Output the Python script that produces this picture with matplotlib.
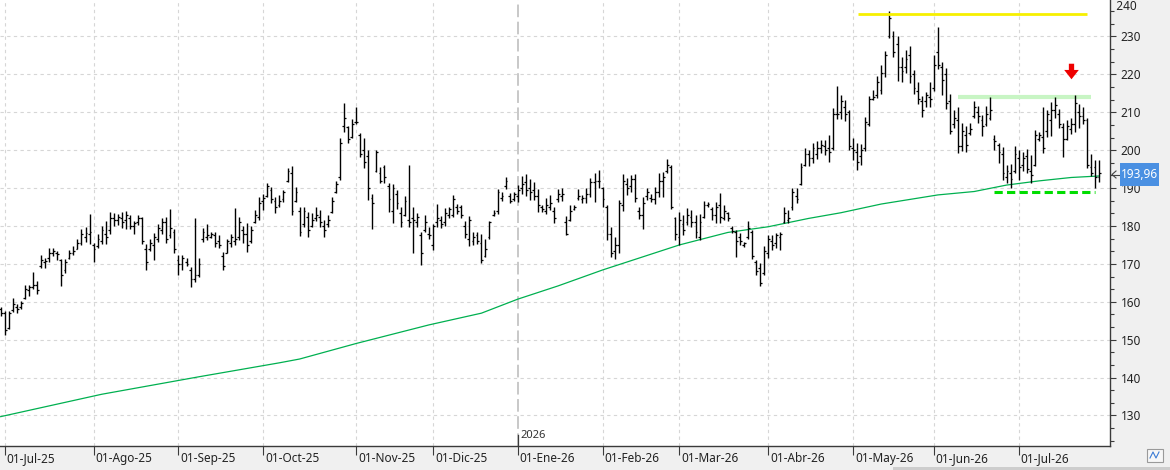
import matplotlib
matplotlib.use("Agg")
import matplotlib.pyplot as plt
import numpy as np
from matplotlib.path import Path
from matplotlib.patches import Rectangle
from matplotlib.ticker import MultipleLocator, FixedLocator
import matplotlib.transforms as mtransforms

plt.rcParams['font.family'] = ['Noto Sans', 'DejaVu Sans']

# ---------------- data ----------------
highs = [158.6,157.6,157.6,160.9,159.3,160.2,164.3,164.3,167.9,165.5,172.3,171.6,174.1,174.1,173.4,171.2,171.2,173.6,174.7,176.7,
         179.1,179.7,183.1,175.6,178.0,180.0,181.3,183.7,183.3,183.1,183.7,184.0,182.9,181.3,182.9,182.4,175.3,176.7,178.2,180.4,
         182.2,182.4,184.4,179.1,172.3,172.3,171.6,169.3,182.0,171.5,179.4,180.5,178.5,178.3,177.6,173.2,176.7,178.0,184.7,182.5,
         180.0,180.7,180.0,184.2,187.6,188.4,191.4,190.4,187.7,188.1,189.5,195.2,195.9,190.2,185.0,184.9,183.8,183.4,185.1,184.1,
         181.6,182.9,187.6,192.0,203.3,212.4,206.4,208.2,211.5,204.5,203.1,200.1,188.5,200.1,195.5,196.1,191.4,191.0,189.5,184.9,
         187.8,196.1,184.9,183.5,178.5,182.9,179.7,180.5,185.8,182.7,184.7,184.9,188.2,185.8,185.6,181.4,182.7,178.5,178.3,177.9,
         176.5,181.2,184.2,189.7,189.1,192.9,188.8,189.1,190.8,193.2,193.7,192.3,191.7,189.7,185.6,187.3,188.2,184.9,189.7,189.9,
         182.6,185.5,185.5,189.7,188.2,189.9,192.6,193.9,194.8,190.4,185.5,179.8,177.0,186.9,193.7,192.6,193.5,193.6,185.1,187.6,
         189.9,188.5,190.4,194.1,194.3,197.6,196.1,182.5,183.8,182.9,184.7,184.2,182.9,183.2,186.7,186.4,185.1,186.4,188.8,185.5,
         183.8,180.0,179.0,178.1,175.9,181.4,178.9,171.0,170.2,174.6,177.6,177.6,178.1,178.5,185.1,184.2,189.9,189.9,196.5,200.5,
         200.1,201.8,202.3,202.7,202.7,204.0,211.1,217.0,214.6,213.2,210.6,203.1,202.0,201.6,208.8,214.3,215.9,219.6,222.5,226.3,
         236.8,231.5,230.1,224.5,226.4,227.5,221.2,218.1,214.3,215.4,218.1,225.1,232.6,223.4,221.6,214.8,210.6,211.3,207.2,206.4,
         207.1,213.0,211.6,209.3,211.6,214.1,204.0,201.8,200.8,196.1,196.4,201.0,200.1,199.6,200.2,198.8,205.4,204.7,211.3,210.6,
         212.8,214.1,211.0,207.2,208.0,208.6,214.6,212.3,211.5,208.6,199.0,197.3,197.4]
lows = [156.3,151.2,152.7,157.4,157.1,158.0,160.8,161.4,163.3,162.0,168.8,168.8,170.6,172.1,171.0,164.2,167.7,171.2,172.3,173.8,
        174.9,175.9,175.2,170.5,174.3,175.2,175.3,178.0,180.0,180.3,179.6,179.1,179.1,177.8,180.3,175.3,168.5,173.4,170.9,175.9,
        177.8,175.6,176.9,173.0,167.0,168.3,169.4,164.0,165.3,166.6,175.9,176.3,176.8,174.5,174.1,168.4,172.8,174.5,175.0,176.3,
        175.4,173.2,175.4,180.7,181.6,184.2,187.7,186.0,183.3,185.1,186.4,191.7,182.9,186.2,177.4,179.8,177.2,179.8,181.2,179.8,
        177.0,179.8,183.5,188.6,192.2,204.9,201.8,203.2,206.9,198.3,195.2,186.9,179.1,194.3,191.3,191.3,183.8,180.7,184.4,179.7,
        182.7,179.8,173.0,179.8,169.7,178.3,176.5,173.7,179.8,179.4,180.0,182.1,182.3,183.2,182.1,176.8,174.6,175.0,175.3,170.3,
        171.7,176.5,182.7,183.2,186.7,189.7,186.0,186.7,186.2,188.5,187.9,186.9,186.9,183.8,183.8,183.2,184.1,180.9,186.4,186.6,
        177.6,181.2,184.2,186.9,186.0,186.0,187.7,186.2,190.0,185.1,176.3,171.9,171.2,172.8,184.0,188.2,189.1,186.4,181.8,179.1,
        186.9,186.4,185.8,187.7,187.7,193.9,184.4,176.3,175.0,177.6,180.3,179.8,176.8,176.3,182.0,185.1,181.6,180.7,180.7,181.6,
        181.2,178.2,171.7,175.0,174.4,176.7,171.2,167.1,164.2,167.1,171.5,173.7,174.1,173.7,180.7,180.7,184.2,186.0,190.8,195.7,
        195.8,196.5,197.6,199.2,198.8,197.0,200.1,208.1,208.1,207.8,200.1,197.4,194.8,196.1,199.9,206.4,213.2,213.7,214.8,219.4,
        229.5,224.5,218.3,218.1,220.5,217.7,214.8,212.2,208.8,211.5,211.3,215.7,221.3,214.6,211.0,204.4,205.8,199.3,199.8,199.6,
        204.0,208.4,207.2,203.7,206.4,207.9,200.1,196.5,192.1,191.3,190.0,193.9,192.1,194.6,194.0,191.3,195.7,202.3,199.2,203.6,
        203.7,208.4,205.8,198.3,202.7,204.2,204.9,205.8,206.9,195.3,193.2,189.9,191.7]
opens = [158.0,157.0,153.0,157.8,158.5,158.5,161.0,163.0,164.0,164.5,169.5,170.5,171.5,173.0,173.0,171.0,168.5,171.5,173.0,174.0,
         175.5,177.0,178.0,175.0,174.8,176.0,178.0,179.0,182.0,181.5,182.0,181.5,182.0,180.0,181.0,182.0,174.0,174.0,175.0,176.5,
         179.0,181.0,177.5,178.5,171.0,170.0,170.5,168.5,166.0,167.0,176.5,177.0,177.0,177.5,176.0,172.0,173.0,175.5,176.0,177.0,
         179.0,178.0,176.0,181.0,182.5,186.5,188.0,189.5,186.5,185.5,187.0,192.0,194.0,186.5,184.0,180.5,182.5,180.0,182.0,182.5,
         180.0,180.5,183.8,189.0,193.0,206.5,206.0,203.5,207.5,204.0,200.0,198.5,187.5,194.5,194.0,195.5,190.5,184.0,188.5,183.5,
         183.0,181.5,182.0,181.0,177.5,179.0,178.0,175.0,181.0,181.5,181.0,183.0,183.0,185.0,185.0,180.0,176.5,176.0,177.5,175.5,
         172.0,177.0,183.0,184.0,187.5,190.5,188.0,187.0,188.0,190.0,191.5,190.0,189.5,188.0,185.0,184.0,185.0,184.0,187.0,188.0,
         181.0,181.5,184.5,187.5,187.0,187.5,188.5,191.5,192.0,190.0,185.0,178.0,173.5,175.0,185.5,191.0,190.5,192.5,184.0,183.0,
         188.0,187.5,187.0,189.0,192.0,194.5,195.5,182.0,177.0,180.5,181.0,182.5,181.0,177.0,182.5,185.5,184.5,183.0,185.5,182.0,
         183.5,179.5,178.5,177.0,175.0,177.0,178.5,170.5,169.0,167.5,173.0,176.0,175.5,177.0,181.0,181.5,185.0,188.0,191.0,196.0,
         199.0,198.0,199.0,200.5,201.0,200.5,200.5,209.5,210.0,211.5,210.0,200.5,199.5,198.5,200.5,207.0,213.5,214.5,216.0,220.5,
         230.0,230.0,228.0,222.0,222.0,225.0,220.0,215.5,213.0,213.0,214.0,216.5,226.0,222.0,220.0,213.0,207.0,208.0,201.0,204.0,
         204.5,209.0,210.0,208.0,207.0,208.5,203.0,201.5,199.0,193.0,194.0,194.5,198.0,196.0,198.5,194.5,196.0,203.0,203.5,205.0,
         208.0,210.5,209.5,206.0,203.0,205.5,207.0,210.0,209.0,208.0,195.5,195.5,193.0]
closes = [157.0,152.5,157.0,159.5,158.0,159.8,163.5,163.8,164.5,163.0,171.0,170.8,173.0,173.5,172.5,167.0,170.5,172.8,173.3,175.5,
          178.0,178.2,178.5,174.0,176.5,179.0,177.0,182.0,181.5,182.5,181.0,183.0,180.0,180.8,182.0,176.0,170.5,175.5,177.0,179.5,
          181.0,176.5,179.5,174.0,170.0,171.5,170.0,166.0,167.0,170.0,178.5,177.5,178.0,175.5,175.0,169.5,176.0,177.0,176.5,181.0,
          178.0,175.0,179.0,183.0,186.0,187.5,190.5,187.0,185.0,186.5,189.0,194.5,184.0,189.0,178.5,184.0,179.0,181.5,183.0,181.0,
          179.0,181.5,186.5,191.0,202.0,208.5,203.0,207.0,207.5,199.0,197.0,190.0,186.0,199.5,192.0,193.0,187.0,190.0,186.0,181.0,
          186.5,181.0,181.5,182.5,173.0,181.0,177.5,180.0,182.0,180.5,183.5,184.5,187.0,184.0,183.0,178.0,181.5,177.0,176.0,171.0,
          174.0,181.0,183.5,189.0,188.0,192.0,186.5,188.5,189.5,191.0,189.5,189.0,188.0,185.5,184.5,185.5,186.0,182.0,188.5,188.5,
          178.0,184.0,185.0,188.0,187.5,188.5,191.5,192.0,192.0,187.0,178.0,173.0,175.0,186.0,192.0,190.0,192.5,187.5,183.0,186.0,
          189.0,187.0,189.0,192.0,193.0,196.0,185.0,178.0,181.5,179.0,183.0,181.0,178.5,181.0,185.5,185.8,183.0,185.0,182.5,184.0,
          182.0,178.8,176.0,176.0,175.5,179.5,172.0,168.0,165.0,173.5,176.5,175.0,177.5,177.8,183.5,182.0,189.0,187.0,195.5,199.0,
          198.0,200.5,200.5,201.5,200.0,199.5,209.5,209.5,213.0,209.5,201.0,200.0,197.0,200.0,207.5,213.5,214.0,218.0,220.5,225.0,
          235.0,226.0,222.0,221.0,224.0,219.5,216.5,213.5,210.5,214.5,213.5,222.5,222.5,218.5,212.5,205.0,208.5,201.0,205.0,201.5,
          205.5,211.5,209.0,206.5,209.5,210.5,202.5,199.5,194.0,194.5,192.5,199.0,195.5,198.0,195.0,193.5,204.0,204.0,200.5,209.5,
          210.5,212.0,207.0,203.0,206.5,207.0,212.5,209.0,208.0,196.0,194.0,193.0,193.96]

# long moving average (read at sampled bars)
ma_idx = [0, 25, 49, 69, 74, 88, 106, 119, 128, 138, 149, 168, 180, 190, 200, 208, 218, 232, 241, 249, 257, 265, 272]
ma_val = [129.7, 135.6, 140.2, 143.9, 144.9, 149.0, 153.9, 157.0, 160.7, 164.2, 168.4, 175.0, 178.3, 179.8, 182.0, 183.5,
          185.8, 188.2, 189.1, 190.8, 191.9, 192.8, 193.2]

month_idx = [1, 23, 44, 65, 88, 107, 128, 149, 168, 190, 211, 231, 252]
month_labels = ['01-Jul-25', '01-Ago-25', '01-Sep-25', '01-Oct-25', '01-Nov-25', '01-Dic-25', '01-Ene-26',
                '01-Feb-26', '01-Mar-26', '01-Abr-26', '01-May-26', '01-Jun-26', '01-Jul-26']
year_idx = 128
year_label = '2026'

# drawn levels: (start bar, end bar, price)
top_level = (212.2, 268.9, 235.9)
resist_level = (236.9, 270.0, 214.0)
support_level = (245.9, 270.9, 189.0)
arrow_pos = (264.9, 221.0)
last_price = closes[-1]

# ---------------- figure ----------------
W, H = 1170, 470
fig = plt.figure(figsize=(W / 100, H / 100), dpi=100, facecolor='#f0f0f0')
ax = fig.add_axes([0, (H - 446) / H, 1110 / W, 446 / H])
ax.set_facecolor('white')

x = np.arange(len(highs))
ax.set_xlim(-0.17, 274.6)
ax.set_ylim(121.95, 239.63)

# grid
for v in range(130, 240, 10):
    ax.axhline(v, color='#d6d6d6', lw=0.8, ls=(0, (3, 3)), zorder=0)
for m in month_idx:
    if m == year_idx:
        continue
    ax.axvline(m, color='#d6d6d6', lw=0.8, ls=(0, (3, 3)), zorder=0)
ax.axvline(year_idx, color='#c4c4c4', lw=1.3, ls=(0, (7, 2.5)), zorder=0)

# moving average
ax.plot(ma_idx, ma_val, color='#00b050', lw=0.9, zorder=2)

# OHLC bars
tw = 0.45
ax.vlines(x, lows, highs, color='black', lw=1.0, zorder=3)
ax.hlines(opens, x - tw, x, color='black', lw=0.9, zorder=3)
ax.hlines(closes, x, x + tw, color='black', lw=0.9, zorder=3)

# levels
ax.plot([top_level[0], top_level[1]], [top_level[2]] * 2, color='#f7f000', lw=2.0, solid_capstyle='butt', zorder=4)
ax.plot([resist_level[0], resist_level[1]], [resist_level[2]] * 2, color='#c8f5c4', lw=3.0, solid_capstyle='butt', zorder=2)
ax.plot([support_level[0], support_level[1]], [support_level[2]] * 2, color='#00dd00', lw=2.2,
        ls=(0, (2.7, 1.4)), dash_capstyle='butt', zorder=4)

# red down arrow marker
arrow_verts = [(-0.17, 0.5), (0.17, 0.5), (0.17, 0.1), (0.47, 0.1), (0.0, -0.5), (-0.47, 0.1), (-0.17, 0.1), (-0.17, 0.5)]
arrow_path = Path(arrow_verts, [Path.MOVETO] + [Path.LINETO] * 6 + [Path.CLOSEPOLY])
ax.plot([arrow_pos[0]], [arrow_pos[1]], marker=arrow_path, markersize=11.2, color='#ee0000',
        markeredgewidth=0, zorder=5)

# spines
for s in ['top', 'left']:
    ax.spines[s].set_visible(False)
for s in ['right', 'bottom']:
    ax.spines[s].set_color('#3a3a3a')
    ax.spines[s].set_linewidth(1.0)

# y axis
ax.yaxis.tick_right()
ax.yaxis.set_major_locator(FixedLocator(list(range(130, 240, 10))))
ax.yaxis.set_minor_locator(MultipleLocator(10 / 3))
ax.tick_params(axis='y', which='major', length=4.5, width=0.8, color='#3a3a3a', pad=3,
               labelsize=8.5, labelcolor='#222222')
ax.tick_params(axis='y', which='minor', length=3.2, width=0.8, color='#3a3a3a')
ax.text(1.0, 1.0, '  240', transform=ax.transAxes, ha='left', va='top',
        fontsize=8.5, color='#222222', clip_on=False)

# x axis
ax.set_xticks(month_idx)
ax.set_xticklabels(month_labels)
ax.tick_params(axis='x', which='major', length=6.5, width=0.8, color='#3a3a3a', pad=-2.5,
               labelsize=8.5, labelcolor='#222222')
offset = mtransforms.ScaledTranslation(2 / 100, 0, fig.dpi_scale_trans)
for lab in ax.get_xticklabels():
    lab.set_horizontalalignment('left')
    lab.set_transform(lab.get_transform() + offset)

# year marker
bt = ax.get_xaxis_transform()
ax.plot([year_idx, year_idx], [0, 11 / 446], color='#3a3a3a', lw=0.9, transform=bt, clip_on=False, zorder=5)
ax.text(year_idx + 0.6, 10 / 446, year_label, transform=bt, ha='left', va='center', fontsize=8,
        color='#333333')

# last price box
def fx(px):
    return px / W

def fy(py):
    return 1 - py / H

fig.patches.append(Rectangle((fx(1120), fy(186)), 39 / W, 23 / H, transform=fig.transFigure,
                             facecolor='#4a90e2', edgecolor='none', zorder=10))
fig.text(fx(1139.5), fy(174.5), f'{last_price:.2f}'.replace('.', ','), ha='center', va='center',
         fontsize=8.5, color='white', zorder=11)
fig.lines.append(plt.Line2D([fx(1112), fx(1119)], [fy(174.5), fy(174.5)], transform=fig.transFigure,
                            color='#444444', lw=0.8, zorder=10))
fig.lines.append(plt.Line2D([fx(1116), fx(1112), fx(1116)], [fy(171), fy(174.5), fy(178)],
                            transform=fig.transFigure, color='#444444', lw=0.8, zorder=10))

# bottom scrollbar strip and corner icon
fig.patches.append(Rectangle((fx(893), 0), (W - 893) / W, 3 / H, transform=fig.transFigure,
                             facecolor='#cdcdcd', edgecolor='none', zorder=10))
fig.patches.append(Rectangle((fx(1147), fy(462)), 16 / W, 13 / H, transform=fig.transFigure,
                             facecolor='#f7f7f7', edgecolor='#9a9a9a', lw=0.8, zorder=10))
fig.lines.append(plt.Line2D([fx(1150), fx(1153), fx(1156), fx(1159)], [fy(458), fy(452), fy(458), fy(452)],
                            transform=fig.transFigure, color='#3a7bd5', lw=0.8, zorder=11))

fig.savefig('out.png', dpi=100, facecolor=fig.get_facecolor())
